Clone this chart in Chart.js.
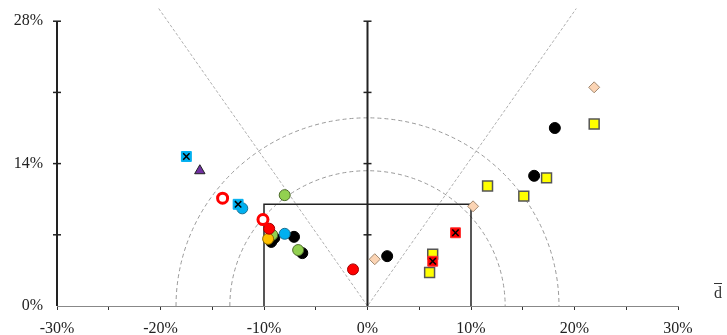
<!DOCTYPE html>
<html>
<head>
<meta charset="utf-8">
<script src="https://cdn.jsdelivr.net/npm/chart.js@4"></script>
<style>
  body { margin: 0; background: #fff; }
</style>
</head>
<body>
<canvas id="myChart" width="727" height="335"></canvas>
<script>
// axis ranges (percent)
const xMin = -30, xMax = 30;
const yMax = 29.25;
const xTicks = [-30, -25, -20, -15, -10, -5, 0, 5, 10, 15, 20, 25, 30];
const yTicks = [0, 7, 14, 21, 28];
const yLabelTicks = [0, 14, 28];

// guide geometry
const diagSlope = 1.45;
const arcRadii = [13.3, 18.5];
const boxHalfWidth = 10, boxHeight = 10;

// series, [x%, y%]
const blackCircles = [[-9.0, 6.7], [-9.3, 6.3], [-7.1, 6.8], [-6.3, 5.2], [1.9, 4.9], [16.1, 12.8], [18.1, 17.5]];
const greenCircles = [[-8.0, 10.9], [-9.2, 7.0], [-6.7, 5.5]];
const cyanCircles = [[-12.1, 9.6], [-8.0, 7.1]];
const goldCircles = [[-9.6, 6.6]];
const redCircles = [[-9.5, 7.6], [-1.4, 3.6]];
const redRings = [[-14.0, 10.6], [-10.1, 8.5]];
const cyanCrossSquares = [[-17.5, 14.7], [-12.5, 10.0]];
const purpleTriangles = [[-16.2, 13.3]];
const peachDiamonds = [[0.7, 4.6], [10.2, 9.8], [21.9, 21.5]];
const yellowSquares = [[6.3, 5.1], [6.0, 3.3], [11.6, 11.8], [15.1, 10.8], [17.3, 12.6], [21.9, 17.9]];
const redCrossSquares = [[6.3, 4.4], [8.5, 7.2]];

const pts = arr => arr.map(p => ({ x: p[0], y: p[1] }));

const guides = {
    id: 'guides',
    beforeDatasetsDraw(chart) {
        const { ctx, scales: { x, y } } = chart;
        const px = v => x.getPixelForValue(v);
        const py = v => y.getPixelForValue(v);
        ctx.save();

        // diagonals from origin
        ctx.strokeStyle = '#b0b0b0';
        ctx.lineWidth = 1;
        ctx.setLineDash([3, 2]);
        ctx.beginPath();
        ctx.moveTo(px(-yMax / diagSlope), py(yMax));
        ctx.lineTo(px(0), py(0));
        ctx.lineTo(px(yMax / diagSlope), py(yMax));
        ctx.stroke();

        // half circles
        ctx.strokeStyle = '#999';
        ctx.setLineDash([4, 3]);
        arcRadii.forEach(r => {
            ctx.beginPath();
            ctx.ellipse(px(0), py(0), px(r) - px(0), py(0) - py(r), 0, Math.PI, 2 * Math.PI);
            ctx.stroke();
        });
        ctx.setLineDash([]);

        // box
        ctx.strokeStyle = '#222';
        ctx.lineWidth = 1.5;
        ctx.beginPath();
        ctx.moveTo(px(-boxHalfWidth), py(0));
        ctx.lineTo(px(-boxHalfWidth), py(boxHeight));
        ctx.lineTo(px(boxHalfWidth), py(boxHeight));
        ctx.lineTo(px(boxHalfWidth), py(0));
        ctx.stroke();

        // vertical axes at -30% and 0%
        [xMin, 0].forEach(v => {
            ctx.strokeStyle = '#222';
            ctx.lineWidth = 2;
            ctx.beginPath();
            ctx.moveTo(px(v), py(0));
            ctx.lineTo(px(v), py(28));
            ctx.stroke();
            ctx.lineWidth = 1.5;
            yTicks.slice(1).forEach(t => {
                ctx.beginPath();
                ctx.moveTo(px(v) - 4, py(t));
                ctx.lineTo(px(v) + 4, py(t));
                ctx.stroke();
            });
        });
        ctx.restore();
    },
    afterDraw(chart) {
        const { ctx, chartArea } = chart;
        ctx.save();
        ctx.fillStyle = '#333';
        ctx.strokeStyle = '#333';
        ctx.font = '16px "Liberation Serif"';
        ctx.textAlign = 'center';
        ctx.textBaseline = 'alphabetic';
        const tx = chartArea.right + 40, ty = chartArea.bottom - 8;
        ctx.fillText('d', tx, ty);
        ctx.lineWidth = 1;
        ctx.beginPath();
        ctx.moveTo(tx - 4, ty - 14.5);
        ctx.lineTo(tx + 4, ty - 14.5);
        ctx.stroke();
        ctx.restore();
    }
};

Chart.defaults.font.family = '"Liberation Serif", "Times New Roman", serif';
Chart.defaults.font.size = 16;
Chart.defaults.color = '#222';

// listed bottom layer first; Chart.js paints dataset 0 last, so the list is reversed below
const layers = [
    { data: pts(blackCircles), pointStyle: 'circle', pointRadius: 5.5, backgroundColor: '#000', borderColor: '#000', borderWidth: 1 },
    { data: pts(greenCircles), pointStyle: 'circle', pointRadius: 5.5, backgroundColor: '#92d050', borderColor: '#4d6b2a', borderWidth: 1 },
    { data: pts(cyanCircles), pointStyle: 'circle', pointRadius: 5.5, backgroundColor: '#00b0f0', borderColor: '#1a6f90', borderWidth: 1 },
    { data: pts(goldCircles), pointStyle: 'circle', pointRadius: 5.5, backgroundColor: '#ffc000', borderColor: '#8a6a00', borderWidth: 1 },
    { data: pts(redCircles), pointStyle: 'circle', pointRadius: 5.5, backgroundColor: '#ff0000', borderColor: '#a00000', borderWidth: 1 },
    { data: pts(redRings), pointStyle: 'circle', pointRadius: 5, backgroundColor: '#fff', borderColor: '#ff0000', borderWidth: 3 },
    { data: pts(cyanCrossSquares), pointStyle: 'rect', pointRadius: 7, backgroundColor: '#00b0f0', borderColor: '#00b0f0', borderWidth: 1 },
    { data: pts(cyanCrossSquares), pointStyle: 'crossRot', pointRadius: 4.5, borderColor: '#000', borderWidth: 1.5 },
    { data: pts(purpleTriangles), pointStyle: 'triangle', pointRadius: 6, backgroundColor: '#7030a0', borderColor: '#222', borderWidth: 1 },
    { data: pts(peachDiamonds), pointStyle: 'rectRot', pointRadius: 5.5, backgroundColor: '#fbd4b4', borderColor: '#a08870', borderWidth: 1 },
    { data: pts(yellowSquares), pointStyle: 'rect', pointRadius: 7, backgroundColor: '#ffff00', borderColor: '#555', borderWidth: 1.5 },
    { data: pts(redCrossSquares), pointStyle: 'rect', pointRadius: 7, backgroundColor: '#ff0000', borderColor: '#ff3030', borderWidth: 1 },
    { data: pts(redCrossSquares), pointStyle: 'crossRot', pointRadius: 4.5, borderColor: '#000', borderWidth: 1.5 }
];

const ctx = document.getElementById('myChart').getContext('2d');
new Chart(ctx, {
    type: 'scatter',
    data: { datasets: layers.slice().reverse() },
    options: {
        responsive: false,
        animation: false,
        events: [],
        layout: { padding: { left: 0, right: 49, top: 0, bottom: 0 } },
        plugins: {
            legend: { display: false },
            tooltip: { enabled: false }
        },
        scales: {
            x: {
                type: 'linear',
                min: xMin,
                max: xMax,
                afterBuildTicks: s => { s.ticks = xTicks.map(v => ({ value: v })); },
                afterFit: s => { s.height = 29; },
                ticks: {
                    padding: 9,
                    autoSkip: false,
                    maxRotation: 0,
                    callback: v => (v % 10 === 0 ? v + '%' : '')
                },
                grid: { drawOnChartArea: false, drawTicks: true, tickLength: 4, color: '#333' },
                border: { display: true, color: '#888', width: 1 }
            },
            y: {
                type: 'linear',
                min: 0,
                max: yMax,
                afterBuildTicks: s => { s.ticks = yTicks.map(v => ({ value: v })); },
                afterFit: s => { s.width = 57; s.paddingTop = 0; s.paddingBottom = 0; },
                ticks: {
                    padding: 14,
                    autoSkip: false,
                    callback: v => (yLabelTicks.includes(v) ? v + '%' : '')
                },
                grid: { display: false, drawTicks: false },
                border: { display: false }
            }
        }
    },
    plugins: [guides]
});
</script>
</body>
</html>
